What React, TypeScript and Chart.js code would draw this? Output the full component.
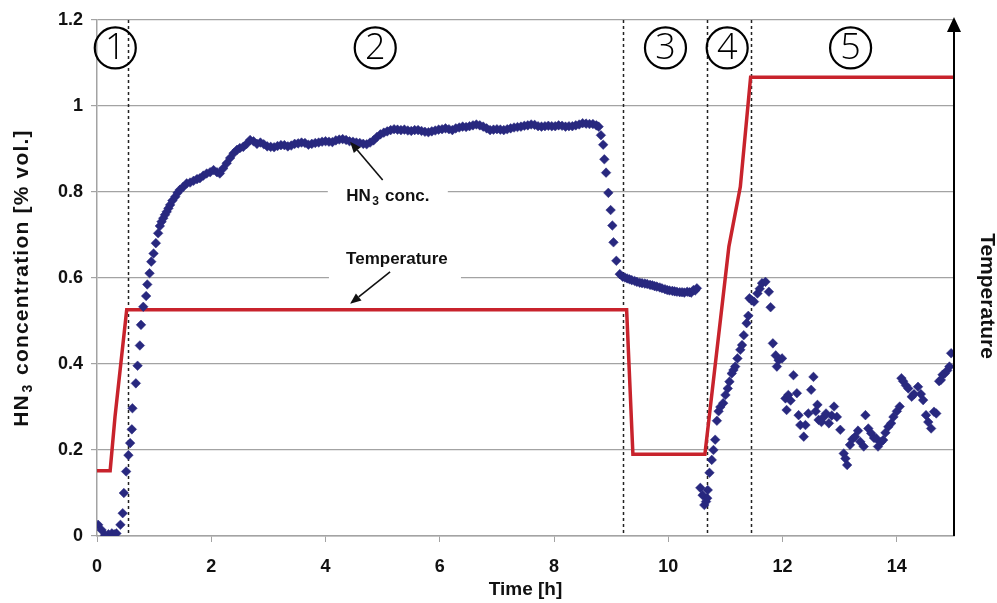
import React, { useEffect, useRef } from "react";
import { Chart, registerables } from "chart.js";

Chart.register(...registerables);

// ---------- data ----------
const hnTime = [
  0.02, 0.08, 0.14, 0.2, 0.26, 0.3, 0.34, 0.41, 0.45, 0.47, 0.51, 0.55, 0.58, 0.61, 0.62, 0.68,
  0.71, 0.75, 0.77, 0.81, 0.86, 0.88, 0.92, 0.95, 0.99, 1.03, 1.07, 1.1, 1.13, 1.16, 1.19, 1.22,
  1.25, 1.28, 1.32, 1.37, 1.41, 1.45, 1.51, 1.57, 1.63, 1.69, 1.75, 1.8, 1.86, 1.92, 1.98, 2.04,
  2.1, 2.15, 2.21, 2.27, 2.33, 2.39, 2.45, 2.5, 2.56, 2.62, 2.68, 2.74, 2.8, 2.86, 2.92, 2.98,
  3.04, 3.1, 3.16, 3.22, 3.28, 3.34, 3.4, 3.46, 3.52, 3.58, 3.64, 3.7, 3.76, 3.82, 3.88, 3.94,
  4.0, 4.06, 4.12, 4.18, 4.24, 4.3, 4.36, 4.42, 4.48, 4.54, 4.6, 4.66, 4.72, 4.78, 4.84, 4.9,
  4.96, 5.02, 5.08, 5.14, 5.2, 5.26, 5.32, 5.38, 5.44, 5.5, 5.56, 5.62, 5.68, 5.74, 5.8, 5.86,
  5.92, 5.98, 6.04, 6.1, 6.16, 6.22, 6.28, 6.34, 6.4, 6.46, 6.52, 6.58, 6.64, 6.7, 6.76, 6.82,
  6.88, 6.94, 7.0, 7.06, 7.12, 7.18, 7.24, 7.3, 7.36, 7.42, 7.48, 7.54, 7.6, 7.66, 7.72, 7.78,
  7.84, 7.9, 7.96, 8.02, 8.08, 8.14, 8.2, 8.26, 8.32, 8.38, 8.44, 8.5, 8.56, 8.62, 8.68, 8.74,
  8.78, 8.82, 8.86, 8.88, 8.91, 8.95, 8.99, 9.02, 9.04, 9.09, 9.15, 9.2, 9.24, 9.28, 9.32, 9.36,
  9.41, 9.45, 9.5, 9.54, 9.59, 9.63, 9.68, 9.72, 9.76, 9.8, 9.85, 9.89, 9.94, 9.98, 10.02, 10.07,
  10.11, 10.15, 10.2, 10.24, 10.28, 10.33, 10.37, 10.4, 10.44, 10.47, 10.5,
  10.56, 10.6, 10.63, 10.66, 10.68, 10.69, 10.72, 10.76, 10.79, 10.82, 10.85, 10.88, 10.91, 10.96,
  11.0, 11.04, 11.07, 11.11, 11.14, 11.17, 11.21, 11.26, 11.29, 11.32, 11.37, 11.4, 11.42, 11.46,
  11.5, 11.56, 11.6, 11.64, 11.7, 11.76, 11.79,
  11.83, 11.88, 11.9, 11.93, 11.99, 12.05, 12.07, 12.1, 12.14, 12.19, 12.25, 12.28, 12.31, 12.37,
  12.4, 12.45, 12.5, 12.54, 12.58, 12.61, 12.63, 12.68, 12.72, 12.76, 12.81, 12.86, 12.9, 12.95,
  13.01, 13.07, 13.1, 13.13, 13.18, 13.22, 13.27, 13.32, 13.36, 13.42, 13.45, 13.5, 13.55, 13.6,
  13.64, 13.67, 13.72, 13.76, 13.8, 13.85, 13.9, 13.94, 14.0, 14.05, 14.08, 14.11, 14.16, 14.2,
  14.26, 14.3, 14.37, 14.42, 14.46, 14.51, 14.55, 14.6, 14.65, 14.69, 14.74, 14.77, 14.8, 14.84,
  14.88, 14.92, 14.95,
];

const hnConc = [
  0.026, 0.014, 0.002, 0.004, 0.006, 0.004, 0.006, 0.026, 0.053, 0.1, 0.15, 0.188, 0.216, 0.248, 0.297, 0.355,
  0.396, 0.443, 0.491, 0.533, 0.558, 0.585, 0.611, 0.638, 0.657, 0.681, 0.704, 0.721, 0.731, 0.739, 0.747, 0.754,
  0.762, 0.77, 0.78, 0.789, 0.798, 0.805, 0.812, 0.82, 0.822, 0.826, 0.83, 0.832, 0.838, 0.843, 0.846, 0.851,
  0.846, 0.843, 0.855, 0.867, 0.879, 0.89, 0.898, 0.902, 0.905, 0.912, 0.921, 0.918, 0.912, 0.915, 0.911, 0.906,
  0.905, 0.904, 0.907, 0.909, 0.909, 0.906, 0.908, 0.912, 0.913, 0.915, 0.914, 0.91, 0.912, 0.914, 0.915, 0.917,
  0.918, 0.917, 0.916, 0.92, 0.922, 0.923, 0.921, 0.918, 0.917, 0.915, 0.914, 0.912, 0.911, 0.915, 0.92, 0.928,
  0.934, 0.938, 0.941, 0.944, 0.946, 0.945, 0.944, 0.945, 0.943, 0.942, 0.944, 0.944, 0.942, 0.94, 0.939, 0.941,
  0.943, 0.945, 0.946, 0.948, 0.946, 0.944, 0.948, 0.95, 0.952, 0.951, 0.953, 0.955, 0.957, 0.955, 0.952, 0.948,
  0.944, 0.945, 0.946, 0.945, 0.944, 0.946, 0.948, 0.95, 0.951, 0.952, 0.954, 0.955, 0.957, 0.956, 0.953, 0.952,
  0.953, 0.954, 0.953, 0.953, 0.955, 0.954, 0.952, 0.953, 0.953, 0.955, 0.957, 0.96, 0.959, 0.958, 0.958, 0.955,
  0.952, 0.932, 0.91, 0.876, 0.845, 0.798, 0.758, 0.722, 0.683, 0.64, 0.609, 0.603, 0.601, 0.599, 0.597, 0.595,
  0.593, 0.591, 0.589, 0.588, 0.587, 0.586, 0.584, 0.583, 0.581, 0.58, 0.578, 0.576, 0.574, 0.572, 0.571, 0.57,
  0.569, 0.568, 0.567, 0.567, 0.566, 0.568, 0.567, 0.566, 0.572, 0.571, 0.576,
  0.112, 0.095, 0.072, 0.08, 0.088, 0.107, 0.147, 0.177, 0.2, 0.224, 0.268, 0.29, 0.3, 0.309,
  0.328, 0.343, 0.359, 0.378, 0.386, 0.394, 0.413, 0.433, 0.444, 0.467, 0.495, 0.512, 0.553, 0.548,
  0.545, 0.564, 0.575, 0.588, 0.591, 0.568, 0.532,
  0.448, 0.42, 0.394, 0.409, 0.413, 0.32, 0.293, 0.328, 0.315, 0.374, 0.332, 0.281, 0.258, 0.231,
  0.258, 0.285, 0.34, 0.37, 0.29, 0.305, 0.27, 0.265, 0.277, 0.285, 0.262, 0.28, 0.301, 0.277,
  0.247, 0.192, 0.18, 0.165, 0.212, 0.225, 0.231, 0.245, 0.219, 0.208, 0.281, 0.25, 0.239, 0.228,
  0.227, 0.208, 0.218, 0.223, 0.24, 0.254, 0.262, 0.277, 0.29, 0.301, 0.367, 0.36, 0.35, 0.343,
  0.324, 0.33, 0.347, 0.33, 0.316, 0.281, 0.265, 0.25, 0.289, 0.285, 0.36, 0.363, 0.375, 0.378,
  0.385, 0.394, 0.425,
];

// temperature trace, drawn in the units of the left axis (as in the figure)
const tempTime = [0, 0.23, 0.315, 0.52, 9.27, 9.38, 10.64, 11.06, 11.26, 11.44, 15];
const tempLevel = [0.152, 0.152, 0.277, 0.526, 0.526, 0.19, 0.19, 0.673, 0.812, 1.067, 1.067];

const phaseBoundaries = [0.55, 9.21, 10.67, 11.45];
const phaseLabels = ["1", "2", "3", "4", "5"];
const phaseCenters = [0.32, 4.87, 9.95, 11.03, 13.19];
const phaseLabelLevel = 1.135;

const xTickValues = [0, 2, 4, 6, 8, 10, 12, 14];
const yTickValues = [0, 0.2, 0.4, 0.6, 0.8, 1, 1.2];

const xTitle = "Time [h]";
const yTitleParts = ["HN", "3", " concentration [% vol.]"];
const rightTitle = "Temperature";
const concLabelParts = ["HN", "3", " conc."];
const tempLabel = "Temperature";

// ---------- styling ----------
const FONT = "'Liberation Sans', Arial, Helvetica, sans-serif";
const BLUE = "#28287f";
const RED = "#c8232c";
const GRID = "#a3a3a3";

function drawSubText(
  ctx: CanvasRenderingContext2D,
  parts: string[],
  cx: number,
  cy: number,
  size: number,
  spacing = 0
) {
  const c: any = ctx;
  c.letterSpacing = `${spacing}px`;
  const big = `bold ${size}px ${FONT}`;
  const small = `bold ${Math.round(size * 0.68)}px ${FONT}`;
  ctx.font = big;
  const w0 = ctx.measureText(parts[0]).width;
  const w2 = ctx.measureText(parts[2]).width;
  ctx.font = small;
  const w1 = ctx.measureText(parts[1]).width + 3;
  const total = w0 + w1 + w2;
  let x = cx - total / 2;
  ctx.textBaseline = "alphabetic";
  ctx.textAlign = "left";
  const base = cy + size * 0.36;
  ctx.font = big;
  ctx.fillText(parts[0], x, base);
  x += w0 + 1.5;
  ctx.font = small;
  ctx.fillText(parts[1], x, base + size * 0.22);
  x += w1 - 1.5;
  ctx.font = big;
  ctx.fillText(parts[2], x, base);
  c.letterSpacing = "0px";
}

function drawArrow(ctx: CanvasRenderingContext2D, x0: number, y0: number, x1: number, y1: number) {
  ctx.save();
  ctx.strokeStyle = "#111";
  ctx.fillStyle = "#111";
  ctx.lineWidth = 1.6;
  const ang = Math.atan2(y1 - y0, x1 - x0);
  const head = 11;
  const hw = 4.5;
  const bx = x1 - Math.cos(ang) * head;
  const by = y1 - Math.sin(ang) * head;
  ctx.beginPath();
  ctx.moveTo(x0, y0);
  ctx.lineTo(bx, by);
  ctx.stroke();
  ctx.beginPath();
  ctx.moveTo(x1, y1);
  ctx.lineTo(bx + Math.sin(ang) * hw, by - Math.cos(ang) * hw);
  ctx.lineTo(bx - Math.sin(ang) * hw, by + Math.cos(ang) * hw);
  ctx.closePath();
  ctx.fill();
  ctx.restore();
}

const overlayPlugin = {
  id: "overlay",
  beforeDatasetsDraw(chart: any) {
    const { ctx, chartArea: a, scales } = chart;
    const x = scales.x;
    ctx.save();
    ctx.strokeStyle = "#222";
    ctx.lineWidth = 1.5;
    ctx.setLineDash([3, 3]);
    phaseBoundaries.forEach((b) => {
      const px = Math.round(x.getPixelForValue(b)) + 0.5;
      ctx.beginPath();
      ctx.moveTo(px, a.top);
      ctx.lineTo(px, a.bottom);
      ctx.stroke();
    });
    ctx.restore();
  },
  afterDatasetsDraw(chart: any) {
    const { ctx, chartArea: a, scales } = chart;
    const x = scales.x;
    const y = scales.y;
    ctx.save();

    // right axis with arrow
    ctx.strokeStyle = "#000";
    ctx.fillStyle = "#000";
    ctx.lineWidth = 2;
    const rx = a.right;
    ctx.beginPath();
    ctx.moveTo(rx, a.bottom);
    ctx.lineTo(rx, a.top + 12);
    ctx.stroke();
    ctx.beginPath();
    ctx.moveTo(rx, a.top - 3);
    ctx.lineTo(rx - 7, a.top + 12);
    ctx.lineTo(rx + 7, a.top + 12);
    ctx.closePath();
    ctx.fill();

    // circled phase numbers
    phaseLabels.forEach((lab, i) => {
      const cx = x.getPixelForValue(phaseCenters[i]);
      const cy = y.getPixelForValue(phaseLabelLevel);
      ctx.beginPath();
      ctx.lineWidth = 2.2;
      ctx.strokeStyle = "#000";
      ctx.arc(cx, cy, 20.5, 0, Math.PI * 2);
      ctx.stroke();
      ctx.fillStyle = "#000";
      ctx.font = `300 36px 'Open Sans', 'DejaVu Sans', sans-serif`;
      ctx.textAlign = "center";
      ctx.textBaseline = "middle";
      ctx.fillText(lab, cx, cy + 1);
    });

    // annotation: HN3 conc.
    const c1x = x.getPixelForValue(5.09);
    const c1y = y.getPixelForValue(0.793);
    ctx.fillStyle = "#fff";
    ctx.fillRect(c1x - 60, c1y - 16, 120, 30);
    ctx.fillStyle = "#111";
    drawSubText(ctx, concLabelParts, c1x, c1y, 17);
    drawArrow(ctx, x.getPixelForValue(5.0), y.getPixelForValue(0.828), x.getPixelForValue(4.43), y.getPixelForValue(0.917));

    // annotation: Temperature
    const c2x = x.getPixelForValue(5.25);
    const c2y = y.getPixelForValue(0.644);
    ctx.fillStyle = "#fff";
    ctx.fillRect(c2x - 68, c2y - 14, 132, 36);
    ctx.fillStyle = "#111";
    ctx.font = `bold 17px ${FONT}`;
    ctx.textAlign = "center";
    ctx.textBaseline = "middle";
    ctx.fillText(tempLabel, c2x, c2y);
    drawArrow(ctx, x.getPixelForValue(5.13), y.getPixelForValue(0.614), x.getPixelForValue(4.43), y.getPixelForValue(0.54));

    // left axis title
    ctx.save();
    ctx.translate(20, (a.top + a.bottom) / 2);
    ctx.rotate(-Math.PI / 2);
    ctx.fillStyle = "#111";
    drawSubText(ctx, yTitleParts, 0, 0, 21, 1.2);
    ctx.restore();

    // right axis title
    ctx.save();
    ctx.translate(a.right + 33, 296);
    ctx.rotate(Math.PI / 2);
    ctx.fillStyle = "#111";
    ctx.font = `bold 21px ${FONT}`;
    ctx.textAlign = "center";
    ctx.textBaseline = "middle";
    ctx.fillText(rightTitle, 0, 0);
    ctx.restore();

    // bottom axis title
    ctx.fillStyle = "#111";
    ctx.font = `bold 19px ${FONT}`;
    ctx.textAlign = "center";
    ctx.textBaseline = "middle";
    ctx.fillText(xTitle, (a.left + a.right) / 2, 590);

    ctx.restore();
  },
};

export default function App() {
  const canvasRef = useRef<HTMLCanvasElement | null>(null);

  useEffect(() => {
    document.body.style.margin = "0";
    const canvas = canvasRef.current;
    if (!canvas) return;
    const hnPoints = hnTime.map((t, i) => ({ x: t, y: hnConc[i] }));
    const tempPoints = tempTime.map((t, i) => ({ x: t, y: tempLevel[i] }));
    const tickFont = { family: FONT, size: 18, weight: "bold" as const };

    const chart = new Chart(canvas, {
      type: "scatter",
      data: {
        datasets: [
          {
            label: "HN3 conc.",
            data: hnPoints,
            pointStyle: "rectRot",
            pointRadius: 4.8,
            pointBackgroundColor: BLUE,
            pointBorderColor: BLUE,
            pointBorderWidth: 0.5,
            showLine: false,
          },
          {
            label: "Temperature",
            data: tempPoints,
            showLine: true,
            borderColor: RED,
            borderWidth: 3.5,
            pointRadius: 0,
            fill: false,
            tension: 0,
          },
        ],
      },
      options: {
        animation: false,
        responsive: false,
        maintainAspectRatio: false,
        layout: { padding: { left: 0, right: 43, top: 20, bottom: 0 } },
        plugins: {
          legend: { display: false },
          tooltip: { enabled: false },
          title: { display: false },
        },
        scales: {
          x: {
            type: "linear",
            min: 0,
            max: 15,
            afterBuildTicks: (s: any) => {
              s.ticks = xTickValues.map((v) => ({ value: v }));
            },
            ticks: {
              font: tickFont,
              color: "#111",
              padding: 14,
              maxRotation: 0,
              callback: (v: any) => String(v),
            },
            grid: {
              drawOnChartArea: false,
              drawTicks: true,
              tickLength: 6,
              color: GRID,
            },
            border: { color: GRID, width: 1.5 },
            afterFit: (s: any) => {
              s.height = 67;
            },
          },
          y: {
            type: "linear",
            min: 0,
            max: 1.2,
            afterBuildTicks: (s: any) => {
              s.ticks = yTickValues.map((v) => ({ value: v }));
            },
            ticks: {
              font: tickFont,
              color: "#111",
              padding: 8,
              callback: (v: any) => String(Math.round(Number(v) * 10) / 10),
            },
            grid: {
              color: GRID,
              lineWidth: 1.2,
              drawTicks: true,
              tickLength: 6,
            },
            border: { color: GRID, width: 1.5 },
            afterFit: (s: any) => {
              s.width = 97;
            },
          },
        },
      },
      plugins: [overlayPlugin],
    });

    return () => {
      chart.destroy();
    };
  }, []);

  return (
    <div style={{ width: 997, height: 603, background: "#fff" }}>
      <canvas ref={canvasRef} width={997} height={603} style={{ display: "block" }} />
    </div>
  );
}
